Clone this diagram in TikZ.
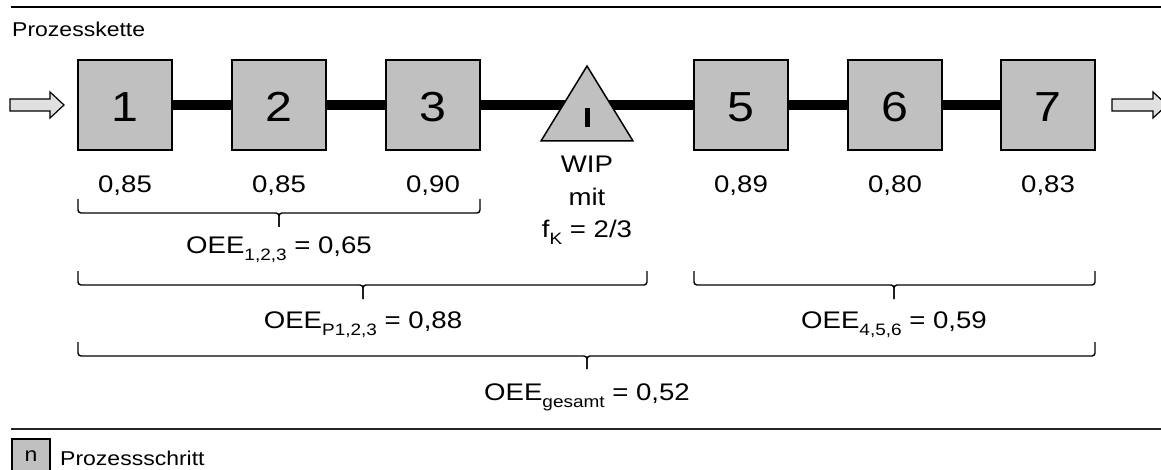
\documentclass[tikz,border=0pt]{standalone}
\usepackage{fontspec}
\setmainfont[FakeStretch=1.15]{Liberation Sans}
\definecolor{boxgray}{HTML}{C0C0C0}
\definecolor{arrowgray}{HTML}{E0E0E0}
% lowered, smaller index text (OEE_{...}, f_K)
\newcommand{\lowidx}[1]{\raisebox{-7pt}{\fontsize{16.5}{16.5}\selectfont #1}}
% bracket under a group of steps: left x, right x, tip x, top y, line y, tip y
\newcommand{\oeebrace}[6]{%
  \draw[brace line] (#1,#4) -- (#1,#5) -- (#3,#5) -- (#3,#6);
  \draw[brace line] (#2,#4) -- (#2,#5) -- (#3,#5) -- (#3,#6);
}
\tikzset{
  stepbox/.style={draw, line width=2pt, fill=boxgray, minimum width=94pt,
    minimum height=90pt, inner sep=0pt, text height=34pt, text depth=0pt,
    font=\fontsize{42}{42}\selectfont},
  chain/.style={line width=9.5pt},
  lbl/.style={inner sep=0pt, font=\fontsize{24}{24}\selectfont},
  small/.style={inner sep=0pt, font=\fontsize{20}{20}\selectfont},
  brace line/.style={line width=1.4pt, rounded corners=3pt},
  io arrow/.style={draw, line width=1.2pt, fill=arrowgray, line join=miter},
  rule/.style={line width=1.5pt},
}
\begin{document}
\begin{tikzpicture}[x=1pt,y=-1pt]
\useasboundingbox (0,0) rectangle (1161,470);

% frame rules
\draw[rule] (11,7) -- (1161,7);
\draw[rule, black!85] (11,429) -- (1161,429);

\node[small, anchor=base west] (title) at (12,37) {Prozesskette};

% process steps
\node[stepbox] (b1) at (125,105) {1};
\node[stepbox] (b2) at (279,105) {2};
\node[stepbox] (b3) at (433,105) {3};
\coordinate (wip) at (587,105);
\node[stepbox] (b5) at (741,105) {5};
\node[stepbox] (b6) at (895,105) {6};
\node[stepbox] (b7) at (1048,105) {7};

% material flow between the steps
\draw[chain] (b1) -- (b2);
\draw[chain] (b2) -- (b3);
\draw[chain] (b3) -- (b5);
\draw[chain] (b5) -- (b6);
\draw[chain] (b6) -- (b7);

% buffer (work in progress)
\draw[line width=1.5pt, fill=boxgray, line join=miter] (541,141) -- (587,66) -- (633,141) -- cycle;
\fill (584.5,108) rectangle (590,127);

% input and output arrows
\draw[io arrow] (10,99) -- (50,99) -- (50,92) -- (64,105) -- (50,118) -- (50,111) -- (10,111) -- cycle;
\draw[io arrow] (1112,99) -- (1153,99) -- (1153,92) -- (1167,105) -- (1153,118) -- (1153,111) -- (1112,111) -- cycle;

% OEE of the single steps
\node[lbl, anchor=base] (v1) at (125,193) {0,85};
\node[lbl, anchor=base] (v2) at (279,193) {0,85};
\node[lbl, anchor=base] (v3) at (433,193) {0,90};
\node[lbl, anchor=base] (v5) at (741,193) {0,89};
\node[lbl, anchor=base] (v6) at (895,193) {0,80};
\node[lbl, anchor=base] (v7) at (1048,193) {0,83};

\node[lbl, anchor=base] (wipA) at (587,173) {WIP};
\node[lbl, anchor=base] (wipB) at (587,206) {mit};
\node[lbl, anchor=base] (wipC) at (587,238) {f\lowidx{K} = 2/3};

% grouped OEE values
\oeebrace{78}{480}{279}{199}{213}{227}
\node[lbl, anchor=base] (oee123) at (279,254) {OEE\lowidx{1,2,3} = 0,65};

\oeebrace{78}{647}{363}{271}{285}{299}
\node[lbl, anchor=base] (oeeP) at (363,328) {OEE\lowidx{P1,2,3} = 0,88};

\oeebrace{694}{1095}{894}{271}{285}{299}
\node[lbl, anchor=base] (oee456) at (894,328) {OEE\lowidx{4,5,6} = 0,59};

\oeebrace{78}{1095}{587}{342}{356}{369}
\node[lbl, anchor=base] (oeeAll) at (587,400) {OEE\lowidx{gesamt} = 0,52};

% legend
\node[draw, line width=1.5pt, fill=boxgray, minimum width=38pt, minimum height=34pt,
      inner sep=0pt, font=\fontsize{20}{20}\selectfont] (legbox) at (31,456) {n};
\node[small, anchor=base west] (legtext) at (60,465) {Prozessschritt};
\end{tikzpicture}
\end{document}
